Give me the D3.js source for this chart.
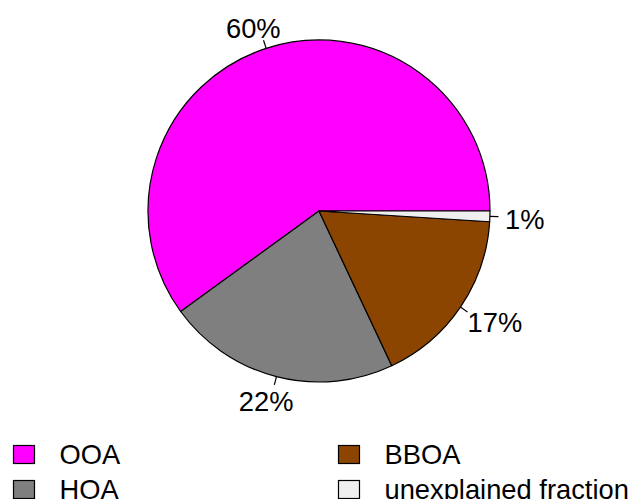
<!DOCTYPE html>
<html>
<head>
<meta charset="utf-8">
<script src="https://cdn.jsdelivr.net/npm/d3@7/dist/d3.min.js"></script>
<style>
  html, body { margin: 0; padding: 0; background: #fff; }
  svg { display: block; font-family: "Liberation Sans", Arial, sans-serif; }
</style>
</head>
<body>
<svg id="chart" width="638" height="499"></svg>
<script>
// Source apportionment of organic aerosol (percent of total)
const categories = ["OOA", "HOA", "BBOA", "unexplained fraction"];
const values = [60, 22, 17, 1];
const colors = ["#FF00FF", "#7F7F7F", "#8B4500", "#F0EFEF"];

const W = 638, H = 499;
const cx = 319, cy = 211, R = 171;
const fontSize = 27.3;
const capH = fontSize * 0.716;

const svg = d3.select("#chart");

// Slices run counter-clockwise starting at 3 o'clock
const pie = d3.pie()
  .value(d => d.value)
  .sort(null)
  .startAngle(Math.PI / 2)
  .endAngle(Math.PI / 2 - 2 * Math.PI);

const data = categories.map((c, i) => ({ name: c, value: values[i], color: colors[i] }));
const arcs = pie(data);
const arc = d3.arc().innerRadius(0).outerRadius(R);

const g = svg.append("g").attr("transform", `translate(${cx},${cy})`);

g.selectAll("path.slice")
  .data(arcs)
  .join("path")
  .attr("class", "slice")
  .attr("d", arc)
  .attr("fill", d => d.data.color)
  .attr("stroke", "#000")
  .attr("stroke-width", 1.2)
  .attr("stroke-linejoin", "round");

const total = d3.sum(values);
const fmt = v => Math.round(v / total * 100) + "%";

// Tick marks and percentage labels outside each slice
arcs.forEach(d => {
  const mid = (d.startAngle + d.endAngle) / 2;
  const ux = Math.sin(mid), uy = -Math.cos(mid);
  g.append("line")
    .attr("x1", ux * R).attr("y1", uy * R)
    .attr("x2", ux * R * 1.05).attr("y2", uy * R * 1.05)
    .attr("stroke", "#000").attr("stroke-width", 1.2);
  const t = g.append("text")
    .attr("font-size", fontSize)
    .attr("fill", "#000")
    .attr("text-anchor", "middle")
    .text(fmt(d.data.value));
  const w = t.node().getComputedTextLength();
  const tx = ux * R * 1.1 + ux * w / 2 * 0.9;
  const ty = uy * R * 1.1 + uy * 6 + 2;
  t.attr("x", tx).attr("y", ty + capH / 2);
});

// Legend: two columns, two rows
const legendCols = [13, 338];
const legendRows = [445, 480];
const boxW = 21, boxH = 18;
const legend = svg.append("g");
data.forEach((d, i) => {
  const col = Math.floor(i / 2), row = i % 2;
  const x = legendCols[col], y = legendRows[row];
  legend.append("rect")
    .attr("x", x + 0.5).attr("y", y + 0.5)
    .attr("width", boxW).attr("height", boxH)
    .attr("fill", d.color)
    .attr("stroke", "#000").attr("stroke-width", 1.2);
  legend.append("text")
    .attr("x", x + 46.5)
    .attr("y", y + 18.5)
    .attr("font-size", fontSize)
    .attr("fill", "#000")
    .text(d.name);
});
</script>
</body>
</html>
